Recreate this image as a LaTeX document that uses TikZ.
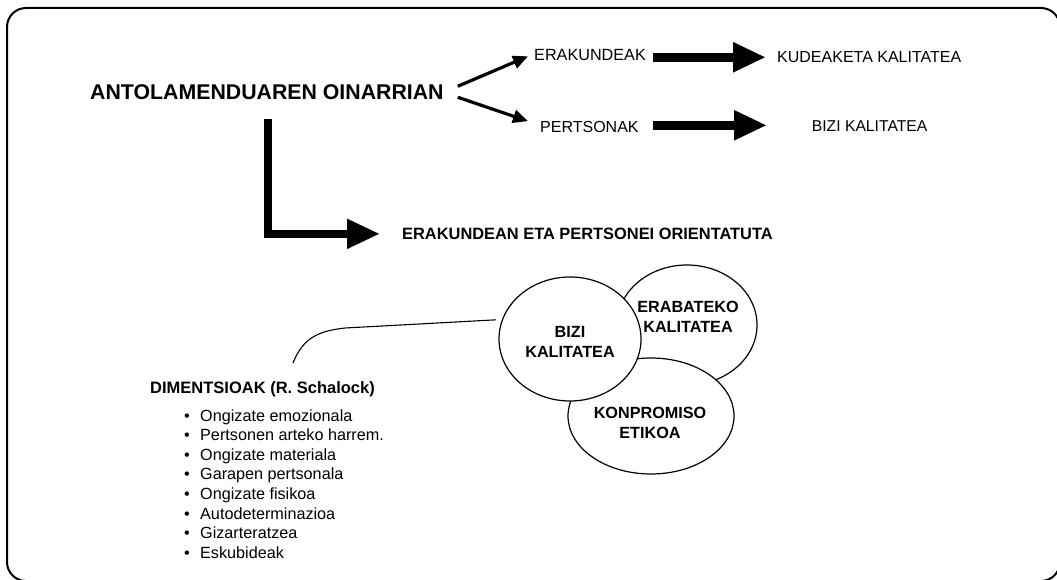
\documentclass[tikz,border=0pt]{standalone}
\usepackage{fontspec}
\setmainfont{Liberation Sans}
\usetikzlibrary{arrows.meta,shapes.geometric,calc}
\begin{document}
\begin{tikzpicture}[x=1pt,y=-1pt,
  lbl/.style={inner sep=0pt, anchor=base west},
  lighttxt/.style={lbl, font=\fontsize{16}{19}\selectfont},
  boldtxt/.style={lbl, font=\fontsize{16.4}{19}\selectfont\bfseries},
  itemtxt/.style={lbl, font=\fontsize{16.2}{19}\selectfont},
  smallarrow/.style={line width=3.2pt, -{Triangle[length=15pt,width=13pt]}},
  bigarrow/.style={line width=9pt, -{Triangle[length=33pt,width=28pt]}},
  circ/.style={draw, line width=1.2pt, fill=white, ellipse, inner sep=0pt},
  circtxt/.style={align=center, inner sep=0pt, font=\fontsize{16.2}{20}\selectfont\bfseries},
]
\useasboundingbox (0,0) rectangle (1057,580);
\draw[line width=2pt, rounded corners=19pt] (7,8) rectangle (1060,581);

\node[boldtxt, font=\fontsize{21.3}{25}\selectfont\bfseries] (title) at (90,100) {ANTOLAMENDUAREN OINARRIAN};
\node[lighttxt, font=\fontsize{16.2}{19}\selectfont] (erak) at (534,61) {ERAKUNDEAK};
\node[lighttxt] (pers) at (540,132.7) {PERTSONAK};
\node[lighttxt] (kude) at (777,62.7) {KUDEAKETA KALITATEA};
\node[lighttxt, font=\fontsize{15.7}{19}\selectfont] (bizik) at (811.7,131.7) {BIZI KALITATEA};
\node[boldtxt] (orient) at (402,239.5) {ERAKUNDEAN ETA PERTSONEI ORIENTATUTA};

\draw[smallarrow] ([xshift=14pt,yshift=6.4pt]title.east) -- ([xshift=-6pt,yshift=-0.8pt]erak.west);
\draw[smallarrow] ([xshift=14pt,yshift=-4.6pt]title.east) -- ([xshift=-12pt,yshift=6pt]pers.west);

\draw[bigarrow] ([xshift=7.4pt]erak.east |- kude.west) -- ([xshift=-11pt]kude.west);
\draw[bigarrow] ([xshift=7.4pt,yshift=1pt]erak.east |- bizik.west) -- ([xshift=-44.7pt,yshift=1pt]bizik.west);

\coordinate (Ltop) at (268,119);
\draw[bigarrow, line width=7.7pt, line join=miter, -{Triangle[length=33pt,width=28pt]}]
  (Ltop) |- ([xshift=-22pt]orient.west);

\node[circ, minimum width=140pt, minimum height=120pt] (era) at (687,325) {};
\node[circ, minimum width=166pt, minimum height=116pt] (konp) at (651,416) {};
\node[circ, minimum width=142pt, minimum height=124pt] (bizi) at (570,339) {};
\node[circtxt] (t1) at (688,317) {ERABATEKO\\KALITATEA};
\node[circtxt] (t2) at (570,341.5) {BIZI\\KALITATEA};
\node[circtxt] (t3) at (650,422.5) {KONPROMISO\\ETIKOA};

\node[boldtxt, font=\fontsize{16.5}{19}\selectfont\bfseries] (dim) at (150,393) {DIMENTSIOAK (R. Schalock)};
\coordinate (dimstart) at (293,363);
\draw[line width=1.1pt, shorten >=6pt] (dimstart) .. controls (303,338) and (318,331) .. (345,328) -- (bizi.164);

\foreach \t [count=\i] in {Ongizate emozionala, Pertsonen arteko harrem., Ongizate materiala, Garapen pertsonala, Ongizate fisikoa, Autodeterminazioa, Gizarteratzea, Eskubideak}
  \node[itemtxt] (it\i) at (184,{401.4+19.6*\i}) {\makebox[16pt][l]{•}\t};
\end{tikzpicture}
\end{document}
